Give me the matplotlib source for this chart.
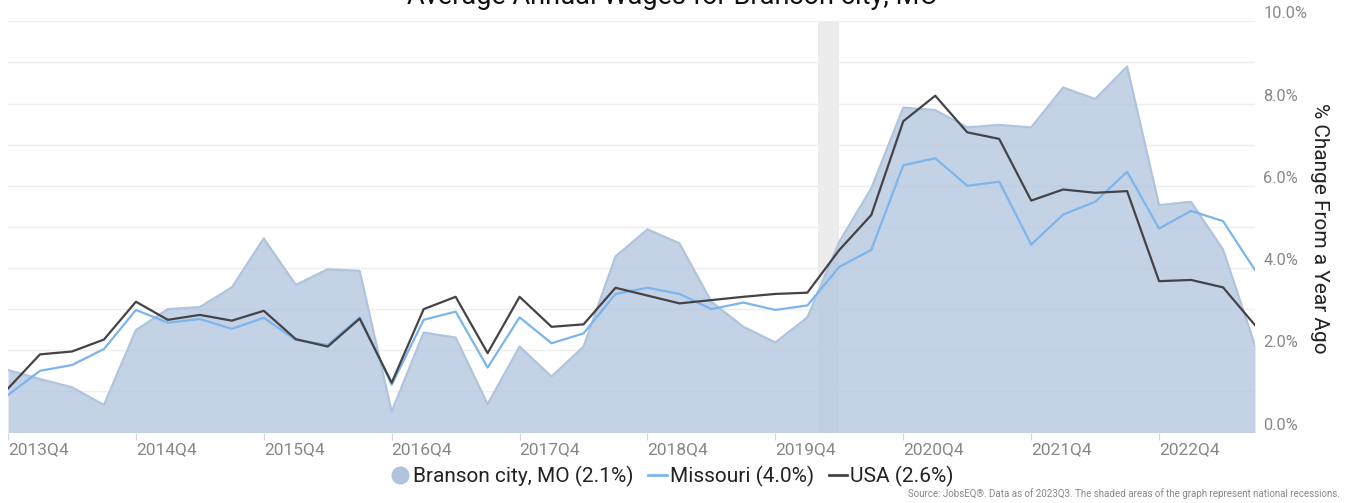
import matplotlib
matplotlib.use('Agg')
import matplotlib.pyplot as plt
from matplotlib.lines import Line2D
from matplotlib.ticker import MultipleLocator
import numpy as np

plt.rcParams['font.family'] = ['Roboto', 'DejaVu Sans']

# yoy % change, quarterly 2013Q4 .. 2023Q3
branson = [1.52, 1.30, 1.10, 0.67, 2.49, 3.00, 3.05, 3.53, 4.72, 3.59,
           3.97, 3.93, 0.51, 2.43, 2.31, 0.69, 2.09, 1.36, 2.09, 4.28,
           4.94, 4.60, 3.18, 2.57, 2.19, 2.80, 4.64, 5.94, 7.90, 7.84,
           7.42, 7.48, 7.42, 8.39, 8.11, 8.90, 5.53, 5.61, 4.45, 2.12]
missouri = [0.91, 1.50, 1.64, 2.03, 2.98, 2.67, 2.76, 2.52, 2.79, 2.25,
            2.13, 2.80, 1.16, 2.74, 2.94, 1.58, 2.80, 2.17, 2.41, 3.37,
            3.52, 3.37, 3.00, 3.16, 2.98, 3.09, 4.03, 4.44, 6.50, 6.67,
            6.00, 6.10, 4.57, 5.30, 5.61, 6.34, 4.96, 5.39, 5.14, 3.95]
usa = [1.07, 1.90, 1.97, 2.26, 3.18, 2.74, 2.86, 2.72, 2.96, 2.27,
       2.09, 2.77, 1.21, 3.00, 3.30, 1.93, 3.30, 2.57, 2.63, 3.52,
       3.33, 3.14, 3.22, 3.30, 3.37, 3.40, 4.44, 5.29, 7.57, 8.19,
       7.30, 7.14, 5.64, 5.91, 5.83, 5.87, 3.68, 3.71, 3.53, 2.61]
tick_labels = ['2013Q4', '2014Q4', '2015Q4', '2016Q4', '2017Q4',
               '2018Q4', '2019Q4', '2020Q4', '2021Q4', '2022Q4']
recession = (25.33, 26.0)  # quarter index, 2020 recession

x = np.arange(len(branson))

fig = plt.figure(figsize=(13.45, 5.03), dpi=100)
ax = fig.add_axes([8 / 1345, 70.5 / 503, 1247 / 1345, 411.2 / 503])

ax.axvspan(recession[0], recession[1], ymin=0, ymax=1, color='#ececec', zorder=0, lw=0)
ax.fill_between(x, 0, branson, color='#b0c4de', alpha=0.75, lw=0, zorder=2)
ax.plot(x, branson, color='#b0c4de', lw=1.6, zorder=2)
ax.plot(x, missouri, color='#7cb5ec', lw=1.6, zorder=3)
ax.plot(x, usa, color='#434348', lw=1.6, zorder=4)

ax.set_xlim(0, len(branson) - 1)
ax.set_ylim(0, 10)
ax.yaxis.tick_right()
ax.yaxis.set_major_locator(MultipleLocator(2))
ax.yaxis.set_minor_locator(MultipleLocator(1))
ax.set_yticklabels(['%.1f%%' % v for v in ax.get_yticks()])
ax.grid(axis='y', which='both', color='#eeeeee', lw=1, zorder=1)
ax.set_axisbelow(True)
ax.tick_params(axis='y', which='both', length=0, pad=6, labelsize=11.8, labelcolor='#888888')
for lab in ax.get_yticklabels():
    lab.set_verticalalignment('bottom')

ax.set_xticks(x[::4])
ax.set_xticklabels(tick_labels, ha='left')
ax.tick_params(axis='x', length=5, color='#ccd6eb', pad=2, labelsize=12.5, labelcolor='#888888')
for s in ax.spines.values():
    s.set_visible(False)

fig.text(0.981, 1 - 228 / 503, '% Change From a Year Ago', rotation=-90, ha='center', va='center',
         fontsize=15, color='#222222')
fig.text(0.5, 1 - 4 / 503, 'Average Annual Wages for Branson city, MO', ha='center',
         va='baseline', fontsize=19.5, color='#111111')

handles = [
    Line2D([], [], marker='o', ls='none', markersize=12, color='#b0c4de'),
    Line2D([], [], color='#7cb5ec', lw=2),
    Line2D([], [], color='#434348', lw=2),
]
labels = ['Branson city, MO (2.1%)', 'Missouri (4.0%)', 'USA (2.6%)']
fig.legend(handles, labels, loc='center', bbox_to_anchor=(0.5, 1 - 476 / 503), ncol=3,
           frameon=False, fontsize=15, handlelength=0.9, handletextpad=0.15,
           columnspacing=0.7, labelcolor='#222222')

fig.text(0.996, 1 - 494 / 503,
         'Source: JobsEQ\u00ae. Data as of 2023Q3. The shaded areas of the graph represent national recessions.',
         ha='right', va='center', fontsize=7, color='#888888')

fig.savefig('out.png', dpi=100)
